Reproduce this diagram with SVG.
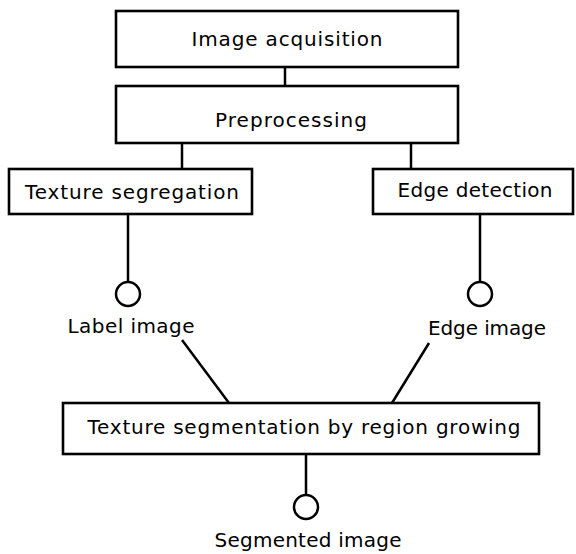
<svg xmlns="http://www.w3.org/2000/svg" width="576" height="554" viewBox="0 0 576 554">
<style>
.box{fill:#fff;stroke:#000;stroke-width:2.6}
.ln{stroke:#000;stroke-width:2.5;fill:none}
.dot{fill:#fff;stroke:#000;stroke-width:2.5}
text{font-family:"DejaVu Sans",Verdana,sans-serif;font-size:20px;fill:#000;text-anchor:middle}
</style>
<rect width="576" height="554" fill="#fff"/>
<g id="connectors">
<line class="ln" x1="285" y1="67" x2="285" y2="86"/>
<line class="ln" x1="182" y1="143" x2="182" y2="169"/>
<line class="ln" x1="411" y1="143" x2="411" y2="169"/>
<line class="ln" x1="128" y1="214" x2="128" y2="282"/>
<line class="ln" x1="480" y1="214" x2="480" y2="282"/>
<line class="ln" x1="182" y1="340" x2="229" y2="403"/>
<line class="ln" x1="429" y1="343" x2="392" y2="403"/>
<line class="ln" x1="306" y1="455" x2="306" y2="495"/>
</g>
<g id="image-acquisition">
<rect class="box" x="116" y="11" width="342" height="56"/>
<text x="287" y="46" textLength="191" lengthAdjust="spacing">Image acquisition</text>
</g>
<g id="preprocessing">
<rect class="box" x="116" y="86" width="342" height="57"/>
<text x="291" y="127" textLength="152" lengthAdjust="spacing">Preprocessing</text>
</g>
<g id="texture-segregation">
<rect class="box" x="9" y="169" width="243" height="45"/>
<text x="132" y="199" textLength="214" lengthAdjust="spacing">Texture segregation</text>
</g>
<g id="edge-detection">
<rect class="box" x="373" y="169" width="200" height="45"/>
<text x="475" y="197" textLength="155" lengthAdjust="spacing">Edge detection</text>
</g>
<g id="label-image">
<circle class="dot" cx="128" cy="294" r="12"/>
<text x="131" y="333" textLength="127" lengthAdjust="spacing">Label image</text>
</g>
<g id="edge-image">
<circle class="dot" cx="480" cy="294" r="12"/>
<text x="487" y="335" textLength="118" lengthAdjust="spacing">Edge image</text>
</g>
<g id="region-growing">
<rect class="box" x="63" y="403" width="476" height="51"/>
<text x="304" y="434" textLength="433" lengthAdjust="spacing">Texture segmentation by region growing</text>
</g>
<g id="segmented-image">
<circle class="dot" cx="306" cy="507" r="12"/>
<text x="308" y="547" textLength="187" lengthAdjust="spacing">Segmented image</text>
</g>
</svg>
